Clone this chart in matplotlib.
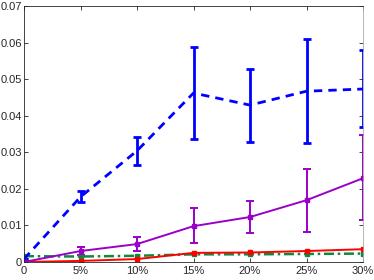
import numpy as np
import matplotlib
matplotlib.use("Agg")
import matplotlib.pyplot as plt

# noise level on the x axis
x = [0, 0.05, 0.10, 0.15, 0.20, 0.25, 0.30]
x_labels = ["0", "5%", "10%", "15%", "20%", "25%", "30%"]

blue_y = [0.0008, 0.0178, 0.0304, 0.0462, 0.0429, 0.0467, 0.0473]
blue_lo = [0.0008, 0.0164, 0.0265, 0.0336, 0.0328, 0.0325, 0.0369]
blue_hi = [0.0008, 0.0194, 0.0342, 0.0588, 0.0527, 0.0609, 0.0579]

purple_y = [0.0, 0.0030, 0.0049, 0.0098, 0.0123, 0.0169, 0.0229]
purple_lo = [0.0, 0.0020, 0.0030, 0.0052, 0.0079, 0.0082, 0.0115]
purple_hi = [0.0, 0.0041, 0.0068, 0.0148, 0.0167, 0.0254, 0.0347]

red_y = [0.0, 0.0003, 0.0008, 0.0025, 0.0026, 0.0030, 0.0035]
green_y = [0.0016, 0.0015, 0.0017, 0.0021, 0.0021, 0.0022, 0.0023]

y_ticks = [0, 0.01, 0.02, 0.03, 0.04, 0.05, 0.06, 0.07]
y_labels = ["0", "0.01", "0.02", "0.03", "0.04", "0.05", "0.06", "0.07"]

plt.rcParams["font.family"] = ["Liberation Sans", "DejaVu Sans"]

fig = plt.figure(figsize=(3.74, 2.80), dpi=100)
ax = fig.add_axes([24 / 374, 18 / 280, 339 / 374, 256 / 280])


def err(y, lo, hi):
    y = np.array(y)
    return [y - np.array(lo), np.array(hi) - y]


ax.errorbar(x, blue_y, yerr=err(blue_y, blue_lo, blue_hi), color="#0000ff",
            ls=(0, (3, 2.2)), lw=2.0, elinewidth=2.0, capsize=3, capthick=2.0)
ax.errorbar(x, purple_y, yerr=err(purple_y, purple_lo, purple_hi), color="#9a00c8",
            ls="-", lw=1.4, marker="s", ms=3.5, elinewidth=1.4, capsize=3, capthick=1.4)
ax.plot(x, green_y, color="#0f8a3c", ls=(0, (4, 1.5, 1, 1.5)), lw=1.8, marker="s", ms=3.5)
ax.plot(x, red_y, color="#ff0000", ls="-", lw=1.4, marker="s", ms=3.5)

ax.set_xlim(0, 0.30)
ax.set_ylim(0, 0.07)
ax.set_xticks(x)
ax.set_xticklabels(x_labels)
ax.set_yticks(y_ticks)
ax.set_yticklabels(y_labels)
ax.tick_params(direction="in", top=True, right=True, length=3, width=0.6,
               labelsize=8, colors="#262626", pad=3)
ax.tick_params(axis="y", pad=1.5)
for s in ax.spines.values():
    s.set_color("#262626")
    s.set_linewidth(0.6)
ax.spines["right"].set_color("#aaaaaa")

fig.savefig("out.png", dpi=100)
